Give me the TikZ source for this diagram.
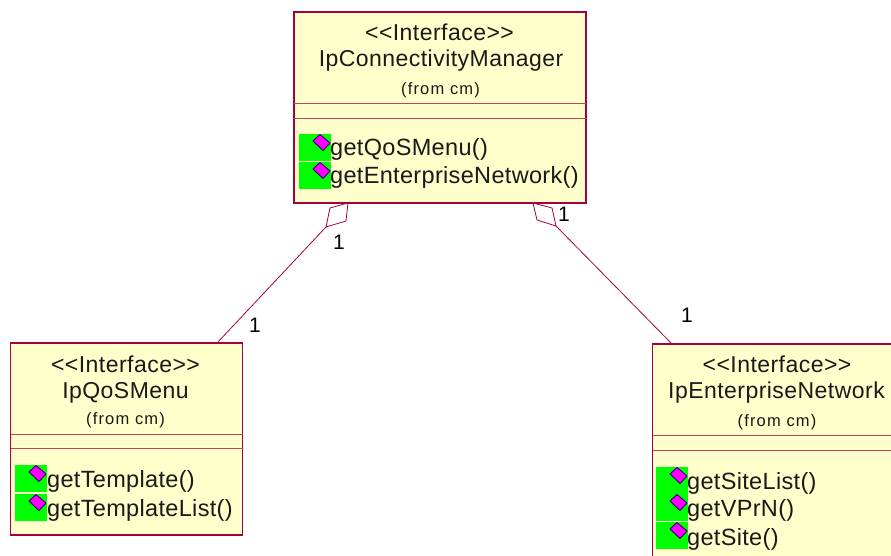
\documentclass[tikz,border=0pt]{standalone}
\usepackage{fontspec}
\setmainfont{Liberation Sans}
\newfontfamily\headfont[LetterSpace=2]{Liberation Sans}
\newfontfamily\opfont[LetterSpace=1.4]{Liberation Sans}
\newfontfamily\fromfont[LetterSpace=7]{Liberation Sans}
\definecolor{umlfill}{HTML}{FFFFCC}
\definecolor{umlline}{HTML}{A50040}
\definecolor{umlrule}{HTML}{C04060}
\definecolor{iconfill}{HTML}{FF00FF}
\definecolor{iconedge}{HTML}{400080}
\tikzset{
  classbox/.style={draw=umlline,fill=umlfill,line width=1.2pt,rectangle,inner sep=0pt,outer sep=0pt,anchor=north west},
  divider/.style={draw=umlrule,line width=0.9pt},
  bottomedge/.style={draw=umlline,line width=2pt},
  assoc/.style={draw=umlline,line width=0.8pt},
  aggdiamond/.style={draw=umlline,line width=0.8pt,fill=white,line join=miter},
  headtxt/.style={inner sep=0pt,font=\headfont\fontsize{23}{27}\selectfont,text=black!90},
  fromtxt/.style={inner sep=0pt,font=\fromfont\fontsize{16.5}{19}\selectfont,text=black!90},
  optxt/.style={inner sep=0pt,anchor=base west,font=\opfont\fontsize{23.5}{27}\selectfont,text=black!90},
  multtxt/.style={inner sep=0pt,font=\fontsize{21}{25}\selectfont},
  opicon/.pic={
    \fill[fill=green] (0,0) rectangle (31.5,27);
    \draw[iconedge,fill=iconfill,line width=1pt,line join=round] (14,7) -- (21,0.5) -- (31,9) -- (24,16.5) -- cycle;
  }
}
\begin{document}
\begin{tikzpicture}[x=1pt,y=-1pt]
\useasboundingbox (0,0) rectangle (891,556);
\clip (0,0) rectangle (891,556);
% aggregation diamonds and associations
\coordinate (mgrL) at (348,203);
\coordinate (dLa) at (330,208);
\coordinate (dLb) at (326,227);
\coordinate (dLc) at (346,221);
\coordinate (qosTop) at (217,343);
\draw[aggdiamond] (mgrL) -- (dLa) -- (dLb) -- (dLc) -- cycle;
\draw[assoc] (dLb) -- (qosTop);
\coordinate (mgrR) at (533,203);
\coordinate (dRa) at (552,208);
\coordinate (dRb) at (556,226);
\coordinate (dRc) at (537,220);
\coordinate (entTop) at (671,343);
\draw[aggdiamond] (mgrR) -- (dRa) -- (dRb) -- (dRc) -- cycle;
\draw[assoc] (dRb) -- (entTop);
% classes
\node[classbox,minimum width=292pt,minimum height=191pt] (mgr) at (294,12) {};
\node[classbox,minimum width=232pt,minimum height=192pt] (qos) at (10.5,343) {};
\node[classbox,minimum width=260pt,minimum height=230pt] (ent) at (652.5,344) {};
\draw[bottomedge] (mgr.south west) -- (mgr.south east);
\draw[bottomedge] (qos.south west) -- (qos.south east);
% dividers
\draw[divider] (294,103.5) -- (586,103.5) (294,118.5) -- (586,118.5);
\draw[divider] (10.5,434) -- (242.5,434) (10.5,448.5) -- (242.5,448.5);
\draw[divider] (652.5,435.5) -- (891,435.5) (652.5,450) -- (891,450);
% multiplicities
\node[multtxt] (m1) at (339,242) {1};
\node[multtxt] (m2) at (255,325) {1};
\node[multtxt] (m3) at (564,214) {1};
\node[multtxt] (m4) at (687,315) {1};
% top class text
\node[headtxt] (t1) at (439.5,32) {<{}<Interface>{}>};
\node[headtxt] (t2) at (441,61) {IpConnectivityManager};
\node[fromtxt] (t3) at (440.5,90) {(from cm)};
\pic at (299,134) {opicon};
\pic at (299,162) {opicon};
\node[optxt] (o1) at (330,156) {getQoSMenu()};
\node[optxt] (o2) at (330,184) {getEnterpriseNetwork()};
% left class text
\node[headtxt] (l1) at (125.5,364) {<{}<Interface>{}>};
\node[headtxt] (l2) at (125.5,393) {IpQoSMenu};
\node[fromtxt] (l3) at (125.5,420) {(from cm)};
\pic at (15,465) {opicon};
\pic at (15,494) {opicon};
\node[optxt] (p1) at (47,487) {getTemplate()};
\node[optxt] (p2) at (47,516) {getTemplateList()};
% right class text
\node[headtxt] (r1) at (777,364) {<{}<Interface>{}>};
\node[headtxt] (r2) at (776.5,393) {IpEnterpriseNetwork};
\node[fromtxt] (r3) at (777,422) {(from cm)};
\pic at (656,467) {opicon};
\pic at (656,494) {opicon};
\pic at (656,522) {opicon};
\node[optxt] (q1) at (687,489) {getSiteList()};
\node[optxt] (q2) at (687,516) {getVPrN()};
\node[optxt] (q3) at (687,545) {getSite()};
\end{tikzpicture}
\end{document}
